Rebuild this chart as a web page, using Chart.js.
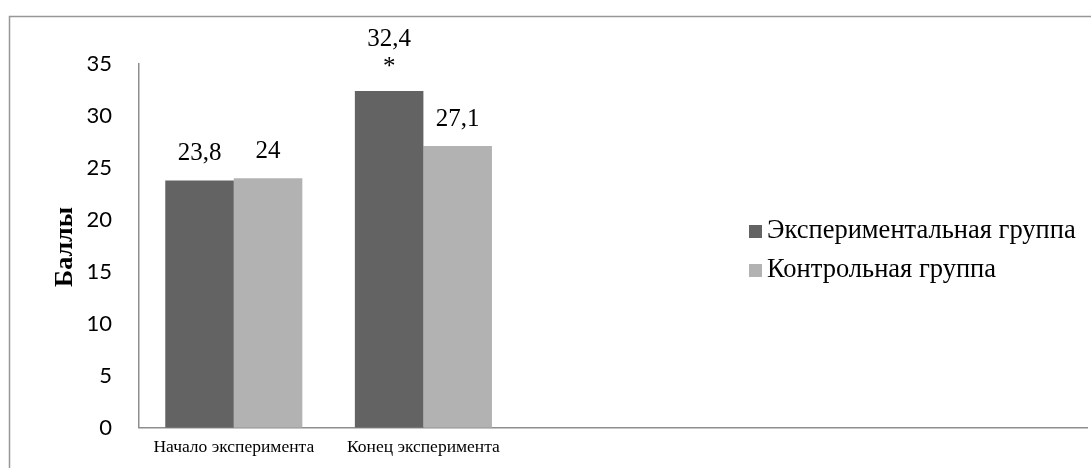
<!DOCTYPE html>
<html>
<head>
<meta charset="utf-8">
<script src="https://cdn.jsdelivr.net/npm/chart.js@4.4.1/dist/chart.umd.min.js"></script>
<style>
  html, body { margin: 0; padding: 0; background: #fff; }
  #wrap { width: 1091px; height: 468px; position: relative; }
</style>
</head>
<body>
<div id="wrap"><canvas id="c" width="1091" height="468"></canvas></div>
<script>
// Categories (the plot keeps room for five slots, only two are filled)
const categories = ['Начало эксперимента', 'Конец эксперимента', '', '', ''];
const seriesNames = ['Экспериментальная группа', 'Контрольная группа'];
const experimental = [23.8, 32.4, null, null, null];
const control = [24, 27.1, null, null, null];
// significance marks printed under the value label
const experimentalMarks = ['', '*', '', '', ''];
const controlMarks = ['', '', '', '', ''];
const yTicks = [0, 5, 10, 15, 20, 25, 30, 35];
const yTitle = 'Баллы';

const DARK = '#636363';
const LIGHT = '#b2b2b2';
const SERIF = '"Liberation Serif", "Times New Roman", serif';

const fmt = v => String(v).replace('.', ',');

const frame = {
  id: 'frame',
  beforeDraw(chart) {
    const ctx = chart.ctx;
    ctx.save();
    ctx.fillStyle = '#fff';
    ctx.fillRect(0, 0, chart.width, chart.height);
    ctx.strokeStyle = '#979797';
    ctx.lineWidth = 1.5;
    ctx.beginPath();
    ctx.moveTo(9.5, chart.height + 5);
    ctx.lineTo(9.5, 16.5);
    ctx.lineTo(chart.width + 5, 16.5);
    ctx.stroke();
    ctx.restore();
  }
};

const valueLabels = {
  id: 'valueLabels',
  afterDatasetsDraw(chart) {
    const ctx = chart.ctx;
    ctx.save();
    ctx.font = '25px ' + SERIF;
    ctx.fillStyle = '#000';
    ctx.textAlign = 'center';
    ctx.textBaseline = 'middle';
    chart.data.datasets.forEach((ds, di) => {
      const meta = chart.getDatasetMeta(di);
      meta.data.forEach((bar, i) => {
        const v = ds.data[i];
        if (v === null || v === undefined) return;
        const lines = [fmt(v)];
        const mark = ds.marks[i];
        if (mark) lines.push(mark);
        lines.forEach((t, k) => {
          const y = bar.y - 27 - (lines.length - 1 - k) * 25;
          ctx.fillText(t, bar.x, k > 0 ? y + 3 : y);
        });
      });
    });
    ctx.restore();
  }
};

const sideLegend = {
  id: 'sideLegend',
  afterDraw(chart) {
    const ctx = chart.ctx;
    ctx.save();
    ctx.font = '26.5px ' + SERIF;
    ctx.textBaseline = 'middle';
    ctx.textAlign = 'left';
    const rows = [231, 270];
    chart.data.datasets.forEach((ds, i) => {
      ctx.fillStyle = ds.backgroundColor;
      ctx.fillRect(749, rows[i] - 6, 13, 13);
      ctx.fillStyle = '#000';
      ctx.fillText(ds.label, 767, rows[i]);
    });
    ctx.restore();
  }
};

const axisTitle = {
  id: 'axisTitle',
  afterDraw(chart) {
    const ctx = chart.ctx;
    ctx.save();
    ctx.translate(65, 247);
    ctx.rotate(-Math.PI / 2);
    ctx.font = 'bold 26px ' + SERIF;
    ctx.fillStyle = '#000';
    ctx.textAlign = 'center';
    ctx.textBaseline = 'middle';
    ctx.fillText(yTitle, 0, 0);
    ctx.restore();
  }
};

new Chart(document.getElementById('c'), {
  type: 'bar',
  data: {
    labels: categories,
    datasets: [
      { label: seriesNames[0], data: experimental, marks: experimentalMarks, backgroundColor: DARK, borderWidth: 0 },
      { label: seriesNames[1], data: control, marks: controlMarks, backgroundColor: LIGHT, borderWidth: 0 }
    ]
  },
  options: {
    responsive: false,
    animation: false,
    devicePixelRatio: 1,
    layout: { padding: { top: 64, right: 4, left: 0, bottom: 0 } },
    datasets: { bar: { categoryPercentage: 0.723, barPercentage: 1.0 } },
    plugins: { legend: { display: false }, tooltip: { enabled: false } },
    scales: {
      x: {
        grid: { display: false, drawTicks: false },
        border: { display: true, color: '#8e8e8e', width: 1.5 },
        ticks: { color: '#000', font: { family: SERIF, size: 17.5 }, padding: 9, maxRotation: 0, autoSkip: false },
        afterFit(s) { s.height = 37; }
      },
      y: {
        min: 0, max: 35,
        afterBuildTicks(s) { s.ticks = yTicks.map(v => ({ value: v })); },
        grid: { display: false, drawTicks: false },
        border: { display: true, color: '#8e8e8e', width: 1.5 },
        ticks: { color: '#000', font: { family: 'Lato, "Open Sans", sans-serif', size: 22 }, padding: 27 },
        afterFit(s) { s.width = 139; }
      }
    }
  },
  plugins: [frame, valueLabels, sideLegend, axisTitle]
});
</script>
</body>
</html>
